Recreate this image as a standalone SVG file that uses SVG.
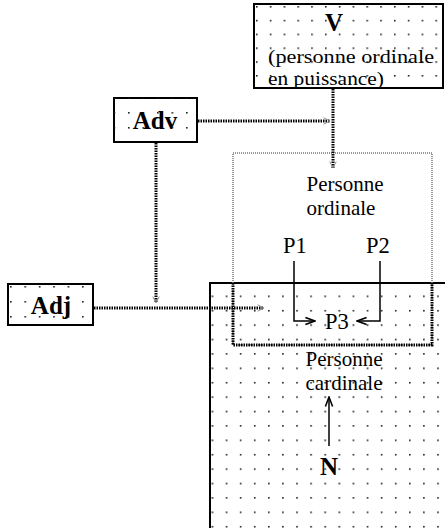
<svg xmlns="http://www.w3.org/2000/svg" width="445" height="528" viewBox="0 0 445 528">
<style>
.t{font-family:"Liberation Serif","Times New Roman",serif;font-size:21px;fill:#000}
.p{font-family:"Liberation Serif","Times New Roman",serif;font-size:22.5px;fill:#000}
.s{font-family:"Liberation Serif","Times New Roman",serif;font-size:19.5px;fill:#000}
.b{font-family:"Liberation Serif","Times New Roman",serif;font-size:25px;font-weight:bold;fill:#000}
.box{stroke:#000;stroke-width:2}
.conn{fill:none;stroke:#000;stroke-width:3;stroke-dasharray:1.5,1}
.arr{fill:none;stroke:#000;stroke-width:1.5}
</style>
<defs>
<pattern id="dBig" patternUnits="userSpaceOnUse" x="211.6" y="281.1" width="14.1" height="14.4"><rect width="1.6" height="1.6" fill="#222"/></pattern>
<pattern id="dV" patternUnits="userSpaceOnUse" x="256" y="6" width="13.8" height="13.8"><rect width="1.6" height="1.6" fill="#222"/></pattern>
<pattern id="dAdv" patternUnits="userSpaceOnUse" x="113.5" y="97" width="14.5" height="15"><rect width="1.6" height="1.6" fill="#222"/></pattern>
<pattern id="dAdj" patternUnits="userSpaceOnUse" x="10" y="286" width="14.4" height="15"><rect width="1.6" height="1.6" fill="#222"/></pattern>
<marker id="ga" viewBox="0 0 10 10" refX="9" refY="5" markerWidth="8" markerHeight="8" markerUnits="userSpaceOnUse" orient="auto"><path d="M1,1 L9,5 L1,9" fill="none" stroke="#888" stroke-width="1.2"/></marker>
<marker id="ba" viewBox="0 0 10 10" refX="9" refY="5" markerWidth="12" markerHeight="12" markerUnits="userSpaceOnUse" orient="auto"><path d="M1,2 L9,5 L1,8" fill="none" stroke="#000" stroke-width="1.3"/></marker>
</defs>

<g id="cardinale">
<rect x="210" y="283" width="240" height="250" fill="#fff"/>
<rect x="210" y="283" width="240" height="250" fill="url(#dBig)" class="box"/>
<text class="t" x="344" y="366" text-anchor="middle">Personne</text>
<text class="t" x="344" y="390" text-anchor="middle">cardinale</text>
</g>

<g id="ordinale">
<rect x="233" y="153" width="199" height="192" fill="none" stroke="#777" stroke-width="1.5" stroke-dasharray="1,1"/>
<path d="M233,283 V345 H432 V283" fill="none" stroke="#000" stroke-width="3" stroke-dasharray="1.5,1"/>
<text class="t" x="345" y="191" text-anchor="middle">Personne</text>
<text class="t" x="341" y="215" text-anchor="middle">ordinale</text>
<text class="p" x="295" y="253" text-anchor="middle">P1</text>
<text class="p" x="378" y="253" text-anchor="middle">P2</text>
<text class="p" x="337" y="329" text-anchor="middle">P3</text>
</g>

<g id="V">
<rect x="254" y="4" width="189" height="84" fill="#fff" class="box"/>
<rect x="254" y="4" width="189" height="84" fill="url(#dV)"/>
<text class="b" x="334" y="31" text-anchor="middle">V</text>
<text class="s" x="268" y="63" textLength="166" lengthAdjust="spacingAndGlyphs">(personne ordinale</text>
<text class="s" x="268" y="85" textLength="116" lengthAdjust="spacingAndGlyphs">en puissance)</text>
</g>

<g id="Adv">
<rect x="114" y="98" width="83" height="44" fill="#fff" class="box"/>
<rect x="114" y="98" width="83" height="44" fill="url(#dAdv)"/>
<text class="b" x="155" y="129" text-anchor="middle">Adv</text>
</g>

<g id="Adj">
<rect x="8" y="284" width="85" height="41" fill="#fff" class="box"/>
<rect x="8" y="284" width="85" height="41" fill="url(#dAdj)"/>
<text class="b" x="51" y="314" text-anchor="middle">Adj</text>
</g>

<g id="N">
<text class="b" x="329" y="475" text-anchor="middle">N</text>
</g>

<g id="connectors">
<line class="conn" x1="333" y1="89" x2="333" y2="168" marker-end="url(#ga)"/>
<line class="conn" x1="198" y1="121" x2="330" y2="121" marker-end="url(#ga)"/>
<line class="conn" x1="156" y1="143" x2="156" y2="303" marker-end="url(#ga)"/>
<line class="conn" x1="94" y1="308" x2="264" y2="308" marker-end="url(#ga)"/>
<path class="arr" d="M294,261 V321 H315" marker-end="url(#ba)"/>
<path class="arr" d="M380,261 V321 H357" marker-end="url(#ba)"/>
<line class="arr" x1="329" y1="446" x2="329" y2="397" marker-end="url(#ba)"/>
</g>
</svg>
